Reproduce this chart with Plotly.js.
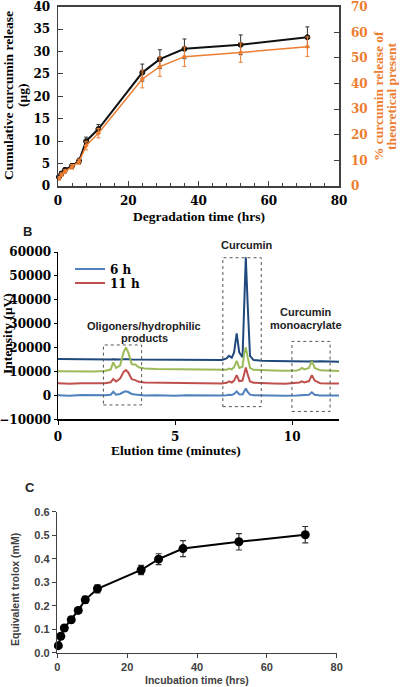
<!DOCTYPE html>
<html><head><meta charset="utf-8">
<script src="https://cdn.plot.ly/plotly-3.0.1.min.js"></script>
<style>html,body{margin:0;padding:0;background:#fff}#chart{width:400px;height:687px}</style>
</head><body><div id="chart"></div>
<script>
// ---------- Panel A : cumulative curcumin release ----------
const releaseTime = [0.25, 1, 2, 4, 6, 8, 11.5, 24, 29, 36, 52, 71];
const cumulativeRelease = [2.0, 2.8, 3.6, 4.5, 5.6, 10.0, 12.7, 25.3, 28.3, 30.6, 31.5, 33.2];
const cumulativeReleaseErr = [0.4, 0.4, 0.4, 0.5, 0.6, 0.9, 1.0, 1.9, 2.1, 2.2, 2.2, 2.3];
const percentRelease = [3.0, 4.4, 5.6, 7.5, 9.5, 15.7, 20.6, 41.8, 46.6, 50.5, 52.1, 54.4];
const percentReleaseErr = [0.7, 0.7, 0.7, 0.9, 1.0, 1.6, 1.8, 3.5, 3.8, 3.8, 3.8, 3.8];

// ---------- Panel B : HPLC chromatograms ----------
const elutionTime = [0, 0.5, 1.0, 1.5, 2.0, 2.25, 2.36, 2.48, 2.65, 2.8, 2.9, 3.0, 3.15, 3.3, 3.45, 3.7, 4.2, 5.0, 5.5, 6.0, 6.5, 7.0, 7.2, 7.3, 7.42, 7.52, 7.63, 7.74, 7.88, 7.95, 8.02, 8.1, 8.2, 8.35, 8.7, 9.2, 9.7, 10.2, 10.32, 10.41, 10.52, 10.72, 10.84, 10.96, 11.2, 11.6, 12.0];
const intensity6h = [100, -100, 150, 0, 100, 300, 1500, 300, 600, 1400, 1700, 1400, 600, 400, 200, 0, 100, -100, 100, 0, 100, 0, 100, 300, 200, 600, 1700, 500, 400, 1500, 2900, 1500, 300, 100, 0, 100, -100, 0, 100, 300, 100, 300, 1300, 300, 0, 100, 0];
const intensity11h = [5100, 4900, 5100, 5000, 5100, 5500, 6900, 5800, 7000, 9800, 10600, 9600, 6800, 6400, 5700, 5400, 5300, 5100, 5200, 5000, 5100, 5000, 5300, 5900, 5400, 6200, 8500, 6000, 6200, 9500, 11700, 8800, 5800, 5300, 5100, 5000, 4900, 5100, 5400, 5900, 5400, 6000, 8500, 6200, 5100, 5000, 5000];
const intensityGreen = [10100, 10000, 10100, 10000, 10200, 10800, 13800, 11500, 12500, 18000, 20100, 18000, 13000, 12900, 11800, 11300, 11000, 10900, 10800, 10700, 10600, 10500, 10700, 11200, 10900, 11800, 14500, 11500, 12000, 17500, 20100, 16000, 11500, 10700, 10500, 10400, 10300, 10400, 10800, 11500, 10900, 11500, 14500, 11500, 10500, 10300, 10200];
const intensityNavy = [15200, 15100, 15200, 15000, 15100, 15000, 15100, 15000, 15000, 15100, 15200, 15100, 15000, 15000, 14900, 15000, 14900, 14900, 14800, 14800, 14700, 14800, 15500, 16600, 15800, 18000, 26000, 18000, 16000, 40000, 57800, 38000, 16500, 14800, 14500, 14400, 14300, 14400, 14300, 14200, 14300, 14200, 14400, 14200, 14300, 14100, 14100];
const seriesNames = ['6 h', '11 h'];

// ---------- Panel C : antioxidant activity ----------
const incubationTime = [0.3, 1, 2, 4, 6, 8, 11.5, 24, 29, 36, 52, 71];
const trolox = [0.03, 0.07, 0.105, 0.14, 0.18, 0.225, 0.272, 0.352, 0.398, 0.443, 0.472, 0.502];
const troloxErr = [0.01, 0.01, 0.01, 0.01, 0.012, 0.015, 0.017, 0.02, 0.023, 0.034, 0.035, 0.035];

// ---------- helpers (layout only) ----------
const W = 400, H = 687;
const px = v => v / W;
const py = v => 1 - v / H;

const serifTitle = {family: 'Liberation Serif, Times New Roman, serif', size: 13.5, color: '#000', weight: 'bold'};
const serifTick = {family: 'DejaVu Serif, serif', size: 12, color: '#000', weight: 'bold'};
const orange = '#ED7D31';
const sansFam = 'Liberation Sans, Arial, sans-serif';
const sansTitle = {family: sansFam, size: 10.5, color: '#404040', weight: 'bold'};
const sansTick = {family: sansFam, size: 11, color: '#404040', weight: 'bold'};
const annFont = {family: sansFam, size: 11, color: '#222', weight: 'bold'};

const traces = [
  {x: releaseTime, y: percentRelease, xaxis: 'x', yaxis: 'y2', type: 'scatter', mode: 'lines+markers',
   line: {color: orange, width: 1.5}, marker: {color: orange, size: 4, symbol: 'diamond'},
   error_y: {type: 'data', array: percentReleaseErr, color: orange, thickness: 1, width: 2},
   showlegend: false, cliponaxis: false},
  {x: releaseTime, y: cumulativeRelease, xaxis: 'x', yaxis: 'y', type: 'scatter', mode: 'lines+markers',
   line: {color: '#111', width: 2}, marker: {color: '#3a2a1a', size: 5, line: {color: '#111', width: 1}},
   error_y: {type: 'data', array: cumulativeReleaseErr, color: '#333', thickness: 1, width: 2},
   showlegend: false, cliponaxis: false},

  {x: elutionTime, y: intensityNavy, xaxis: 'x2', yaxis: 'y3', type: 'scatter', mode: 'lines',
   line: {color: '#1F497D', width: 2}, showlegend: false},
  {x: elutionTime, y: intensityGreen, xaxis: 'x2', yaxis: 'y3', type: 'scatter', mode: 'lines',
   line: {color: '#9BBB59', width: 2}, showlegend: false},
  {x: elutionTime, y: intensity11h, xaxis: 'x2', yaxis: 'y3', type: 'scatter', mode: 'lines',
   name: seriesNames[1], line: {color: '#C0504D', width: 2}, legend: 'legend2'},
  {x: elutionTime, y: intensity6h, xaxis: 'x2', yaxis: 'y3', type: 'scatter', mode: 'lines',
   name: seriesNames[0], line: {color: '#4F81BD', width: 2}, legend: 'legend'},

  {x: incubationTime, y: trolox, xaxis: 'x3', yaxis: 'y4', type: 'scatter', mode: 'lines+markers',
   line: {color: '#000', width: 2}, marker: {color: '#000', size: 9},
   error_y: {type: 'data', array: troloxErr, color: '#333', thickness: 1.2, width: 3},
   showlegend: false, cliponaxis: false}
];

const boxStyle = {color: '#555', width: 1, dash: 'dot'};
const boxes = [[1.94, 3.57, -4000, 21100], [7.04, 8.68, -4700, 57600], [9.99, 11.62, -6700, 22600]];

const ann = (text, x, y, font, extra) => Object.assign({text, x: px(x), y: py(y), xref: 'paper', yref: 'paper',
  showarrow: false, xanchor: 'center', yanchor: 'middle', font}, extra || {});

const layout = {
  width: W, height: H, margin: {l: 0, r: 0, t: 0, b: 0},
  paper_bgcolor: '#fff', plot_bgcolor: '#fff', showlegend: true,
  // Panel A
  xaxis: {domain: [px(58), px(339)], anchor: 'y', range: [0, 80], dtick: 20, tick0: 0,
    ticks: 'inside', ticklen: 5, tickcolor: '#404040', minor: {dtick: 4, ticks: 'inside', ticklen: 3, tickcolor: '#404040'},
    showline: true, linecolor: '#404040', linewidth: 1.5, mirror: true, showgrid: false, zeroline: false,
    tickfont: serifTick, ticklabelstandoff: 3, ticklabeloverflow: 'allow'},
  yaxis: {domain: [py(186), py(6.7)], anchor: 'x', range: [0, 40], dtick: 5,
    ticks: 'inside', ticklen: 5, tickcolor: '#404040', showline: true, linecolor: '#404040', linewidth: 1.5,
    showgrid: false, zeroline: false, tickfont: serifTick, ticklabelstandoff: 4, ticklabeloverflow: 'allow'},
  yaxis2: {overlaying: 'y', anchor: 'x', side: 'right', range: [0, 70], dtick: 10,
    ticks: 'inside', ticklen: 5, tickcolor: '#404040', showline: true, linecolor: '#404040', linewidth: 1.5,
    showgrid: false, zeroline: false, tickfont: Object.assign({}, serifTick, {color: orange}), ticklabelstandoff: 8,
    ticklabeloverflow: 'allow'},
  // Panel B
  xaxis2: {domain: [px(58), px(339)], anchor: 'y3', range: [0, 12], dtick: 5, tick0: 0,
    ticks: 'outside', ticklen: 4, tickcolor: '#000', showline: true, linecolor: '#000', linewidth: 1.5,
    showgrid: false, zeroline: false, tickfont: serifTick, ticklabelstandoff: 2, ticklabeloverflow: 'allow'},
  yaxis3: {domain: [py(419.3), py(252)], anchor: 'x2', range: [-10000, 60000], dtick: 10000, tickformat: 'd',
    ticks: 'outside', ticklen: 3, tickcolor: '#000', showline: true, linecolor: '#000', linewidth: 1.5,
    showgrid: false, zeroline: false, tickfont: serifTick, ticklabelstandoff: 0, ticklabeloverflow: 'allow'},
  // Panel C
  xaxis3: {domain: [px(57.3), px(336.7)], anchor: 'y4', range: [0, 80], dtick: 20, tick0: 0,
    ticks: 'outside', ticklen: 4, tickcolor: '#404040', showline: true, linecolor: '#404040', linewidth: 1.5,
    showgrid: false, zeroline: false, tickfont: sansTick, ticklabeloverflow: 'allow'},
  yaxis4: {domain: [py(652.7), py(511.7)], anchor: 'x3', range: [0, 0.6], dtick: 0.1, tickformat: '.1f',
    ticks: 'outside', ticklen: 4, tickcolor: '#404040', showline: true, linecolor: '#404040', linewidth: 1.5,
    showgrid: false, zeroline: false, tickfont: sansTick, ticklabeloverflow: 'allow'},
  legend: {x: px(70), y: py(269), xanchor: 'left', yanchor: 'middle', bgcolor: 'rgba(0,0,0,0)',
    font: serifTick, itemwidth: 30},
  legend2: {x: px(70), y: py(283), xanchor: 'left', yanchor: 'middle', bgcolor: 'rgba(0,0,0,0)',
    font: serifTick, itemwidth: 30},
  shapes: boxes.map(b => ({type: 'rect', xref: 'x2', yref: 'y3', x0: b[0], x1: b[1], y0: b[2], y1: b[3], line: boxStyle})),
  annotations: [
    ann('Cumulative curcumin release', 8, 96, serifTitle, {textangle: -90}),
    ann('(μg)', 22, 96, serifTitle, {textangle: -90}),
    ann('% curcumin release of', 378, 96, Object.assign({}, serifTitle, {color: orange}), {textangle: -90}),
    ann('theoretical present', 391, 96, Object.assign({}, serifTitle, {color: orange}), {textangle: -90}),
    ann('Degradation time (hrs)', 198.5, 216, serifTitle),
    ann('B', 27, 231, {family: sansFam, size: 13, color: '#222', weight: 'bold'}),
    ann('Intensity (μV)', 8, 334, serifTitle, {textangle: -90}),
    ann('Elution time (minutes)', 176, 450, serifTitle),
    ann('Curcumin', 246.7, 245, annFont),
    ann('Oligoners/hydrophilic', 144, 325.7, annFont),
    ann('products', 144, 338, annFont),
    ann('Curcumin', 306, 311.7, annFont),
    ann('monoacrylate', 306, 325, annFont),
    ann('C', 30, 488, {family: sansFam, size: 13, color: '#222', weight: 'bold'}),
    ann('Equivalent trolox (mM)', 15, 590, sansTitle, {textangle: -90}),
    ann('Incubation time (hrs)', 197, 680, sansTitle)
  ]
};

Plotly.newPlot('chart', traces, layout, {staticPlot: true, displayModeBar: false});
</script>
</body></html>
